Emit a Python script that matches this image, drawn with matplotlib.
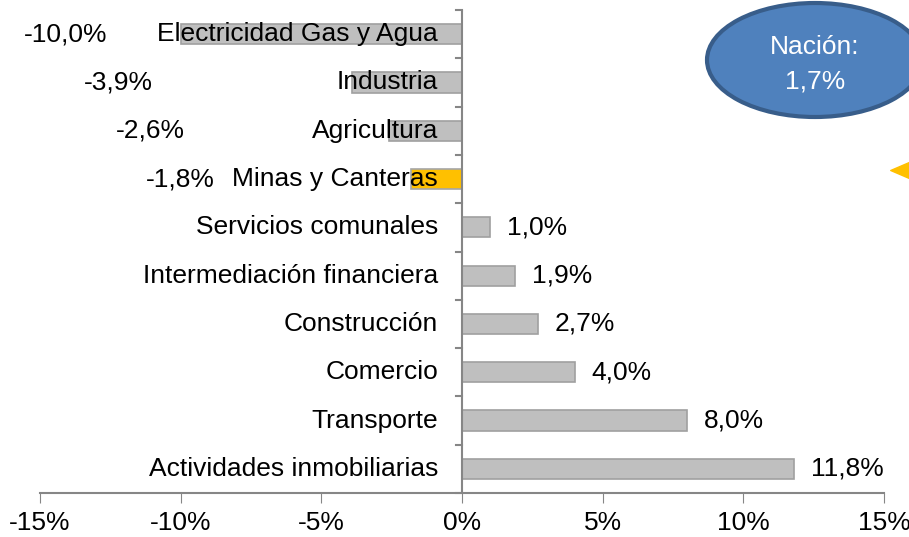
import matplotlib.pyplot as plt
from matplotlib.patches import Ellipse
from matplotlib.path import Path

plt.rcParams['font.family'] = ['Liberation Sans', 'DejaVu Sans']

sectores = ['Electricidad Gas y Agua', 'Industria', 'Agricultura', 'Minas y Canteras',
            'Servicios comunales', 'Intermediación financiera', 'Construcción',
            'Comercio', 'Transporte', 'Actividades inmobiliarias']
variacion = [-10.0, -3.9, -2.6, -1.8, 1.0, 1.9, 2.7, 4.0, 8.0, 11.8]
etiquetas = ['-10,0%', '-3,9%', '-2,6%', '-1,8%', '1,0%', '1,9%', '2,7%', '4,0%', '8,0%', '11,8%']
# where excel left the labels of the negative bars (right edge, in %)
pos_neg = [-12.6, -11.0, -9.85, -8.8]
destacado = 'Minas y Canteras'
xticks = [-15, -10, -5, 0, 5, 10, 15]
nacion = 'Nación:\n1,7%'

fig = plt.figure(figsize=(9.09, 5.37), dpi=100)
ax = fig.add_axes([40/909, 44/537, 844/909, 483/537])

y = list(range(len(sectores)))
colores = ['#FFC000' if s == destacado else '#BFBFBF' for s in sectores]
bordes = ['#A6A6A6' if s == destacado else '#A0A0A0' for s in sectores]
ax.barh(y, variacion, height=0.42, color=colores, edgecolor=bordes, linewidth=1.2, zorder=2)

fs = 19
for i, (v, t) in enumerate(zip(variacion, etiquetas)):
    ax.text(-0.85, i, sectores[i], ha='right', va='center', fontsize=fs, zorder=3)
    if v > 0:
        ax.annotate(t, (v, i), xytext=(12, 0), textcoords='offset points',
                    ha='left', va='center', fontsize=fs)
    else:
        ax.text(pos_neg[i], i, t, ha='right', va='center', fontsize=fs)

ax.set_xlim(-15, 15)
ax.set_ylim(len(sectores) - 0.5, -0.5)
ax.set_xticks(xticks)
ax.set_xticklabels([f'{x}%' for x in xticks], fontsize=fs)
ax.tick_params(axis='x', length=7, color='#868686', pad=6)
ax.set_yticks([])

for s in ['top', 'right', 'left']:
    ax.spines[s].set_visible(False)
ax.spines['bottom'].set_color('#868686')
ax.spines['bottom'].set_linewidth(1.5)
ax.axvline(0, color='#868686', lw=1.5, zorder=4)
for b in range(len(sectores) + 1):
    ax.plot([-0.2, 0], [b - 0.5, b - 0.5], color='#868686', lw=1.5, clip_on=False, zorder=4)

ell = Ellipse((815/909, 1 - 60/537), 216/909, 114/537, transform=fig.transFigure,
              facecolor='#4F81BD', edgecolor='#385D8A', linewidth=3)
fig.patches.append(ell)
fig.text(815/909, 1 - 64/537, nacion, color='white', fontsize=fs, ha='center', va='center',
         linespacing=1.55)

# little yellow star cut by the right border
star = Path([(0, 1), (0.3, 0.3), (1, 0), (0.3, -0.3), (0, -1), (-0.3, -0.3),
             (-1, 0), (-0.3, 0.3), (0, 1)])
fig.add_artist(plt.Line2D([918/909], [1 - 170/537], marker=star, markersize=40,
                          color='#FFC000', linestyle='none', transform=fig.transFigure))

fig.savefig('out.png', dpi=100)
